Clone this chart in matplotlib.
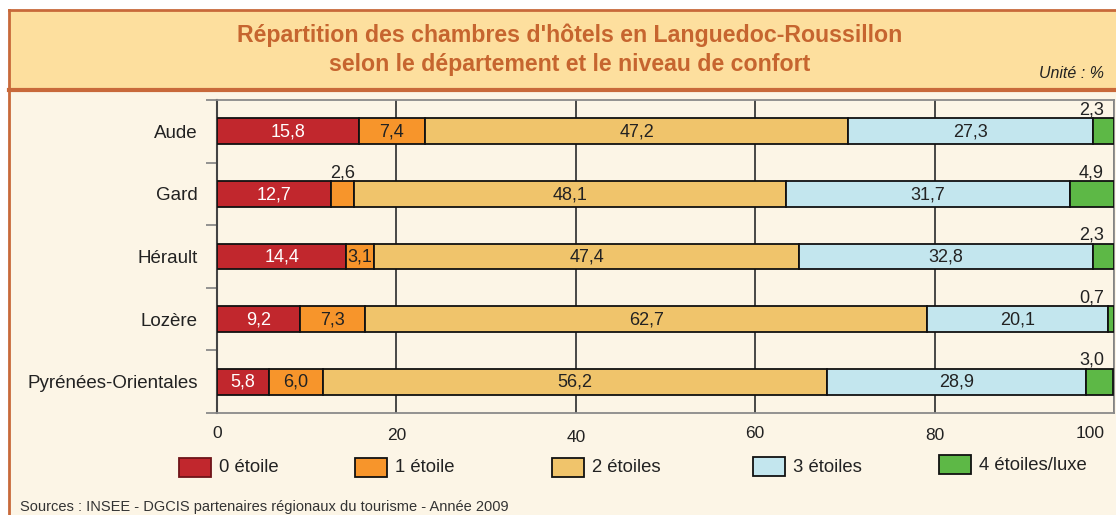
import matplotlib.pyplot as plt
from matplotlib.patches import Rectangle
from matplotlib.lines import Line2D

plt.rcParams['font.family'] = ['Liberation Sans', 'DejaVu Sans']

# data (unité : %)
departements = ["Aude", "Gard", "Hérault", "Lozère", "Pyrénées-Orientales"]
niveaux = ["0 étoile", "1 étoile", "2 étoiles", "3 étoiles", "4 étoiles/luxe"]
etoile_0 = [15.8, 12.7, 14.4, 9.2, 5.8]
etoile_1 = [7.4, 2.6, 3.1, 7.3, 6.0]
etoile_2 = [47.2, 48.1, 47.4, 62.7, 56.2]
etoile_3 = [27.3, 31.7, 32.8, 20.1, 28.9]
etoile_4 = [2.3, 4.9, 2.3, 0.7, 3.0]
xticks = [0, 20, 40, 60, 80, 100]

series = [etoile_0, etoile_1, etoile_2, etoile_3, etoile_4]
colors = ['#C1272D', '#F7952B', '#F0C46B', '#C3E6EE', '#5DB846']
edges = ['#6e1418', '#111111', '#111111', '#111111', '#111111']

W, H = 1116, 515
border = '#C8693A'
body = '#FCF5E6'
header = '#FDDF9E'


def fx(px):
    return px / W


def fy(py):
    return 1 - py / H


fig = plt.figure(figsize=(W / 100, H / 100), dpi=100)
fig.patch.set_facecolor('white')

# frame: body, header band, borders
fig.patches.append(Rectangle((fx(9), 0), 1, fy(90), transform=fig.transFigure,
                             facecolor=body, edgecolor='none', zorder=-10))
fig.patches.append(Rectangle((fx(9), fy(90)), 1, fy(10) - fy(90), transform=fig.transFigure,
                             facecolor=header, edgecolor='none', zorder=-10))
fig.lines.append(Line2D([fx(9), 1], [fy(10), fy(10)], transform=fig.transFigure,
                        color=border, lw=2, zorder=-5))
fig.lines.append(Line2D([fx(9), 1], [fy(90), fy(90)], transform=fig.transFigure,
                        color=border, lw=3, zorder=-5))
fig.lines.append(Line2D([fx(9), fx(9)], [0, fy(10)], transform=fig.transFigure,
                        color=border, lw=2, zorder=-5))

fig.text(fx(570), fy(35), "Répartition des chambres d'hôtels en Languedoc-Roussillon",
         ha='center', va='center', fontsize=16.7, fontweight='bold', color='#C6652F')
fig.text(fx(570), fy(65), "selon le département et le niveau de confort",
         ha='center', va='center', fontsize=16.7, fontweight='bold', color='#C6652F')
fig.text(fx(1104), fy(73), "Unité : %", ha='right', va='center', fontsize=11.5,
         style='italic', color='#222222')

ax = fig.add_axes([fx(217), fy(413), fx(1114) - fx(217), fy(100) - fy(413)])
ax.set_facecolor('none')

y = list(range(len(departements)))
left = [0.0] * len(departements)
bar_h = 0.415
for k, (vals, c) in enumerate(zip(series, colors)):
    ax.barh(y, vals, left=left, height=bar_h, color=c, edgecolor='#111111',
            linewidth=1.3, zorder=3)
    for i, v in enumerate(vals):
        xc = left[i] + v / 2
        txt = f"{v:.1f}".replace('.', ',')
        if k == 4 or v < 3:
            # small segment: value written above the bar
            ax.text(min(xc, 97.5), y[i] - bar_h / 2 - 0.06, txt, ha='center',
                    va='baseline', fontsize=13, color='#222222', zorder=4)
        else:
            ax.text(xc, y[i] + 0.01, txt, ha='center', va='center', fontsize=13,
                    color='white' if k == 0 else '#222222', zorder=4)
    left = [a + b for a, b in zip(left, vals)]

ax.set_xlim(0, 100)
ax.set_ylim(len(departements) - 0.5, -0.5)
ax.set_xticks(xticks)
ax.xaxis.grid(True, color='#3a3a3a', lw=1.3)
ax.set_axisbelow(True)
ax.tick_params(axis='x', length=0, labelbottom=False)

ax.set_yticks(y)
ax.set_yticklabels(departements, fontsize=13.5, color='#222222')
ax.set_yticks([i - 0.5 for i in range(len(departements) + 1)], minor=True)
ax.tick_params(axis='y', which='major', length=0, pad=14)
ax.tick_params(axis='y', which='minor', length=8, color='#8a8a8a', width=1.3)

for side in ['top', 'bottom', 'right']:
    ax.spines[side].set_color('#8a8a8a')
    ax.spines[side].set_linewidth(1.3)
ax.spines['left'].set_color('#444444')
ax.spines['left'].set_linewidth(1.5)

# x tick labels, slightly staggered as in the original
tick_y = [433, 435, 437, 433, 436, 433]
for v, py in zip(xticks, tick_y):
    ha = 'right' if v == 100 else 'center'
    xv = 99 if v == 100 else v
    ax.text(xv, (413 - py) / 313, str(v), transform=ax.get_xaxis_transform(),
            ha=ha, va='center', fontsize=12.5, color='#222222')

# legend
leg_x = [179, 355, 552, 753, 939]
leg_y = [458, 458, 458, 457, 455]
for name, c, ec, lx, ly in zip(niveaux, colors, edges, leg_x, leg_y):
    fig.patches.append(Rectangle((fx(lx), fy(ly + 19)), fx(32), 19 / H,
                                 transform=fig.transFigure, facecolor=c,
                                 edgecolor=ec, lw=1.3, zorder=2))
    fig.text(fx(lx + 40), fy(ly + 10), name, ha='left', va='center',
             fontsize=13.3, color='#222222')

fig.text(fx(20), fy(507), "Sources : INSEE - DGCIS partenaires régionaux du tourisme - Année 2009",
         ha='left', va='center', fontsize=10.5, color='#333333')

fig.savefig('out.png', dpi=100)
